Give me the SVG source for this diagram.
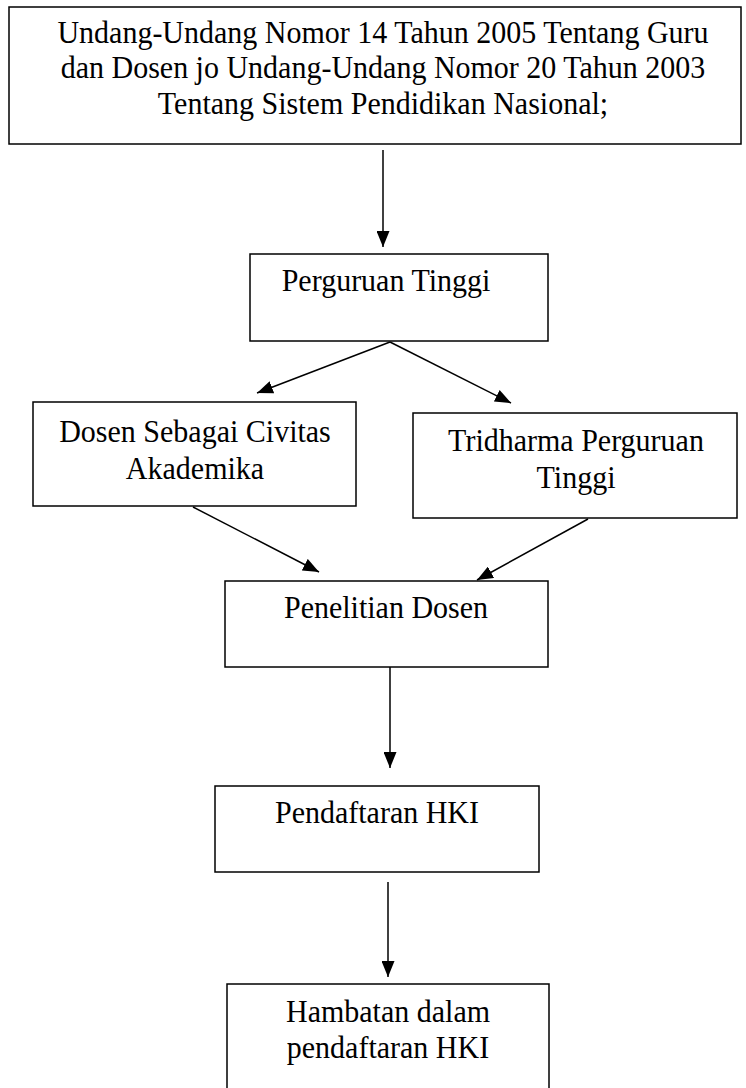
<svg xmlns="http://www.w3.org/2000/svg" width="746" height="1088" viewBox="0 0 746 1088">
<style>
.box{fill:#fff;stroke:#000;stroke-width:1.5}
.t{font-family:"Liberation Serif","Times New Roman",serif;font-size:30px;fill:#000;text-anchor:middle}
.c{stroke:#000;stroke-width:1.5;fill:none;marker-end:url(#ah)}
</style>
<defs>
<marker id="ah" viewBox="0 0 16 13" refX="16" refY="6.5" markerWidth="16" markerHeight="13" markerUnits="userSpaceOnUse" orient="auto">
<path d="M0,0 L16,6.5 L0,13 Z" fill="#000"/>
</marker>
</defs>
<rect width="746" height="1088" fill="#fff"/>
<g id="connectors">
<line class="c" x1="383" y1="150" x2="383" y2="247"/>
<line class="c" x1="390" y1="342" x2="257" y2="393"/>
<line class="c" x1="390" y1="342" x2="511" y2="403"/>
<line class="c" x1="193" y1="507" x2="319" y2="572"/>
<line class="c" x1="588" y1="519" x2="477" y2="580"/>
<line class="c" x1="390" y1="667" x2="390" y2="768"/>
<line class="c" x1="388" y1="882" x2="388" y2="977"/>
</g>
<g id="uu">
<rect class="box" x="9" y="7" width="732" height="137"/>
<text class="t" transform="translate(383,43) scale(1,1.08)">Undang-Undang Nomor 14 Tahun 2005 Tentang Guru</text>
<text class="t" transform="translate(383,78) scale(1,1.08)">dan Dosen jo Undang-Undang Nomor 20 Tahun 2003</text>
<text class="t" transform="translate(383,114) scale(1,1.08)">Tentang Sistem Pendidikan Nasional;</text>
</g>
<g id="pt">
<rect class="box" x="250" y="254" width="298" height="87"/>
<text class="t" transform="translate(386,291) scale(1,1.08)">Perguruan Tinggi</text>
</g>
<g id="dosen">
<rect class="box" x="33" y="402" width="323" height="104"/>
<text class="t" transform="translate(195,442) scale(1,1.08)">Dosen Sebagai Civitas</text>
<text class="t" transform="translate(195,479) scale(1,1.08)">Akademika</text>
</g>
<g id="tridharma">
<rect class="box" x="413" y="413" width="324" height="105"/>
<text class="t" transform="translate(576,451) scale(1,1.08)">Tridharma Perguruan</text>
<text class="t" transform="translate(576,488) scale(1,1.08)">Tinggi</text>
</g>
<g id="penelitian">
<rect class="box" x="225" y="581" width="323" height="86"/>
<text class="t" transform="translate(386,618) scale(1,1.08)">Penelitian Dosen</text>
</g>
<g id="pendaftaran">
<rect class="box" x="215" y="786" width="324" height="86"/>
<text class="t" transform="translate(377,823) scale(1,1.08)">Pendaftaran HKI</text>
</g>
<g id="hambatan">
<rect class="box" x="227" y="984" width="322" height="110"/>
<text class="t" transform="translate(388,1022) scale(1,1.08)">Hambatan dalam</text>
<text class="t" transform="translate(388,1058) scale(1,1.08)">pendaftaran HKI</text>
</g>
</svg>
